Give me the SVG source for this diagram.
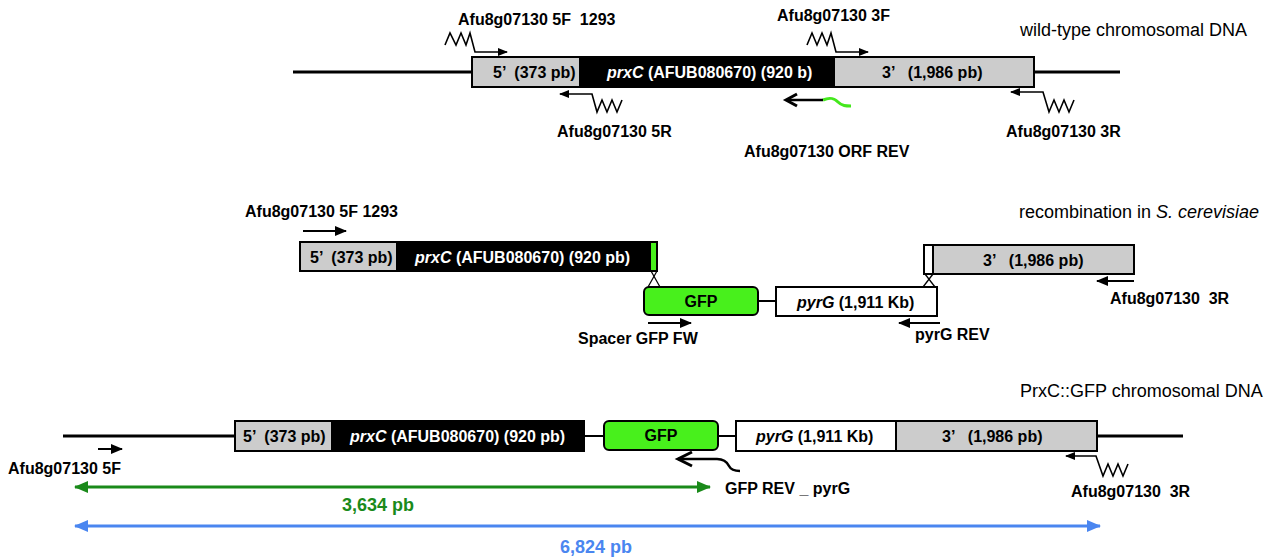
<svg xmlns="http://www.w3.org/2000/svg" width="1282" height="558" viewBox="0 0 1282 558" xml:space="preserve">
<defs>
<style>
.lbl{font-family:"Liberation Sans",Arial,sans-serif;font-size:16px;font-weight:bold;fill:#000;white-space:pre}
.wl{font-family:"Liberation Sans",Arial,sans-serif;font-size:16px;font-weight:bold;fill:#fff;white-space:pre}
.ttl{font-family:"Liberation Sans",Arial,sans-serif;font-size:18px;fill:#000;white-space:pre}
.grey{fill:#CCCCCC;stroke:#000;stroke-width:2}
.blk{fill:#000;stroke:#000;stroke-width:2}
.wht{fill:#fff;stroke:#000;stroke-width:2}
.gfp{fill:#48F01C;stroke:#000;stroke-width:2}
.dna{stroke:#000;stroke-width:3;fill:none}
.thin{stroke:#000;stroke-width:2;fill:none}
.pr{stroke:#000;stroke-width:1.6;fill:none;stroke-linejoin:miter}
.pr2{stroke:#000;stroke-width:2;fill:none}
</style>
<marker id="ah" markerWidth="10" markerHeight="8" refX="9" refY="4" orient="auto" markerUnits="userSpaceOnUse"><path d="M0,0 L10,4 L0,8 Z" fill="#000"/></marker>
<marker id="ah2" markerWidth="12" markerHeight="10" refX="11" refY="5" orient="auto" markerUnits="userSpaceOnUse"><path d="M0,0 L12,5 L0,10 Z" fill="#000"/></marker>
<marker id="ahg" markerWidth="14" markerHeight="12" refX="13" refY="6" orient="auto-start-reverse" markerUnits="userSpaceOnUse"><path d="M0,0 L14,6 L0,12 Z" fill="#1A8A1A"/></marker>
<marker id="ahb" markerWidth="14" markerHeight="12" refX="13" refY="6" orient="auto-start-reverse" markerUnits="userSpaceOnUse"><path d="M0,0 L14,6 L0,12 Z" fill="#4A86F0"/></marker>
</defs>

<!-- Row 1: wild-type -->
<g id="row1">
<line class="dna" x1="293" y1="72" x2="472" y2="72"/>
<line class="dna" x1="1034" y1="72" x2="1120" y2="72"/>
<rect class="grey" x="472" y="57" width="108" height="30"/>
<rect class="blk" x="580" y="57" width="254" height="30"/>
<rect class="grey" x="834" y="57" width="200" height="30"/>
<text class="lbl" x="493" y="78">5’  (373 pb)</text>
<text class="wl" x="607" y="78"><tspan font-style="italic">prxC</tspan> (AFUB080670) (920 b)</text>
<text class="lbl" x="882" y="78">3’   (1,986 pb)</text>
<text class="ttl" x="1020" y="36">wild-type chromosomal DNA</text>
</g>

<g id="primer-5F-1293">
<polyline class="pr" points="445,45 450,33 456,45 461,33 466,45 470,33 475,52 507,52" marker-end="url(#ah)"/>
<text class="lbl" x="458" y="25">Afu8g07130 5F  1293</text>
</g>
<g id="primer-3F">
<polyline class="pr" points="807,45 812,33 817,45 822,33 827,45 831,33 836,52 868,52" marker-end="url(#ah)"/>
<text class="lbl" x="777" y="21">Afu8g07130 3F</text>
</g>
<g id="primer-5R">
<polyline class="pr" points="622,100 617,112 612,100 607,112 602,100 597,112 592,94 560,94" marker-end="url(#ah)"/>
<text class="lbl" x="557" y="137">Afu8g07130 5R</text>
</g>
<g id="primer-3R">
<polyline class="pr" points="1074,100 1069,112 1064,100 1059,112 1054,100 1049,112 1043,92 1011,92" marker-end="url(#ah)"/>
<text class="lbl" x="1006" y="137">Afu8g07130 3R</text>
</g>
<g id="primer-ORF-REV">
<path d="M823,100 C830,97 834,98 838,102 C842,106 846,106 851,106" stroke="#44E81C" stroke-width="3" fill="none"/>
<line x1="823" y1="100" x2="787" y2="100" stroke="#000" stroke-width="2.5"/>
<polyline points="797,94 786,100 797,106" stroke="#000" stroke-width="3" fill="none" stroke-linejoin="miter"/>
<text class="lbl" x="744" y="157">Afu8g07130 ORF REV</text>
</g>

<!-- Row 2: recombination -->
<g id="row2-left">
<rect class="grey" x="300" y="242" width="97" height="29"/>
<rect class="blk" x="397" y="242" width="253" height="29"/>
<rect x="650" y="242" width="7" height="29" fill="#48F01C" stroke="#000" stroke-width="2"/>
<text class="lbl" x="310" y="263">5’  (373 pb)</text>
<text class="wl" x="415" y="263"><tspan font-style="italic">prxC</tspan> (AFUB080670) (920 pb)</text>
</g>
<g id="row2-gfp">
<rect class="gfp" x="644" y="287" width="114" height="28" rx="5"/>
<text class="lbl" x="701" y="307" text-anchor="middle">GFP</text>
</g>
<g id="row2-pyrG">
<rect class="wht" x="776" y="287" width="161" height="29"/>
<text class="lbl" x="797" y="308"><tspan font-style="italic">pyrG</tspan> (1,911 Kb)</text>
</g>
<g id="row2-3prime">
<rect class="wht" x="924" y="245" width="9" height="29"/>
<rect class="grey" x="933" y="245" width="201" height="29"/>
<text class="lbl" x="983" y="266">3’   (1,986 pb)</text>
</g>
<text class="ttl" x="1019" y="218">recombination in <tspan font-style="italic">S. cerevisiae</tspan></text>

<g id="connectors">
<line class="thin" x1="758" y1="301" x2="776" y2="301"/>
<line x1="651" y1="271" x2="660" y2="287" stroke="#000" stroke-width="1.3"/>
<line x1="657" y1="271" x2="648" y2="287" stroke="#000" stroke-width="1.3"/>
<line x1="925" y1="274" x2="935" y2="287" stroke="#000" stroke-width="1.3"/>
<line x1="933" y1="274" x2="923" y2="287" stroke="#000" stroke-width="1.3"/>
<line class="dna" x1="63" y1="436" x2="235" y2="436"/>
<line class="thin" x1="584" y1="436" x2="604" y2="436"/>
<line class="thin" x1="718" y1="436" x2="736" y2="436"/>
<line class="dna" x1="1097" y1="436" x2="1183" y2="436"/>
</g>

<g id="row2-primers">
<line class="pr2" x1="303" y1="231" x2="346" y2="231" marker-end="url(#ah2)"/>
<text class="lbl" x="245" y="217">Afu8g07130 5F 1293</text>
<line class="pr2" x1="648" y1="323" x2="691" y2="323" marker-end="url(#ah2)"/>
<text class="lbl" x="578" y="344">Spacer GFP FW</text>
<line class="pr2" x1="940" y1="323" x2="899" y2="323" marker-end="url(#ah2)"/>
<text class="lbl" x="915" y="340">pyrG REV</text>
<line class="pr2" x1="1134" y1="281" x2="1097" y2="281" marker-end="url(#ah2)"/>
<text class="lbl" x="1110" y="304">Afu8g07130  3R</text>
</g>

<!-- Row 3: PrxC::GFP -->
<g id="row3">
<rect class="grey" x="235" y="421" width="97" height="30"/>
<rect class="blk" x="332" y="421" width="252" height="30"/>
<rect class="gfp" x="604" y="421" width="114" height="29" rx="5"/>
<rect class="wht" x="736" y="421" width="160" height="30"/>
<rect class="grey" x="896" y="421" width="201" height="30"/>
<text class="lbl" x="243" y="442">5’  (373 pb)</text>
<text class="wl" x="350" y="442"><tspan font-style="italic">prxC</tspan> (AFUB080670) (920 pb)</text>
<text class="lbl" x="661" y="441" text-anchor="middle">GFP</text>
<text class="lbl" x="756" y="442"><tspan font-style="italic">pyrG</tspan> (1,911 Kb)</text>
<text class="lbl" x="942" y="442">3’   (1,986 pb)</text>
<text class="ttl" x="1020" y="397">PrxC::GFP chromosomal DNA</text>
</g>

<g id="row3-primers">
<line class="pr2" x1="98" y1="449" x2="122" y2="449" marker-end="url(#ah2)"/>
<text class="lbl" x="8" y="474">Afu8g07130 5F</text>
<path d="M717,459 C724,459 727,462 729,466 C731,470 735,471 740,471" stroke="#000" stroke-width="2.5" fill="none"/>
<line x1="717" y1="459" x2="678" y2="459" stroke="#000" stroke-width="2.5"/>
<polyline points="692,452 678,459 692,466" stroke="#000" stroke-width="3" fill="none"/>
<text class="lbl" x="725" y="494">GFP REV _ pyrG</text>
<polyline class="pr" points="1128,464 1123,476 1118,464 1113,476 1108,464 1103,476 1096,456 1066,456" marker-end="url(#ah)"/>
<text class="lbl" x="1071" y="497">Afu8g07130  3R</text>
</g>

<g id="sizes">
<line x1="75" y1="487" x2="710" y2="487" stroke="#1A8A1A" stroke-width="3" marker-start="url(#ahg)" marker-end="url(#ahg)"/>
<text x="378" y="511" text-anchor="middle" font-family="Liberation Sans, Arial, sans-serif" font-size="18" font-weight="bold" fill="#1A8A1A">3,634 pb</text>
<line x1="75" y1="526" x2="1100" y2="526" stroke="#4A86F0" stroke-width="3" marker-start="url(#ahb)" marker-end="url(#ahb)"/>
<text x="596" y="553" text-anchor="middle" font-family="Liberation Sans, Arial, sans-serif" font-size="18" font-weight="bold" fill="#4A86F0">6,824 pb</text>
</g>
</svg>
